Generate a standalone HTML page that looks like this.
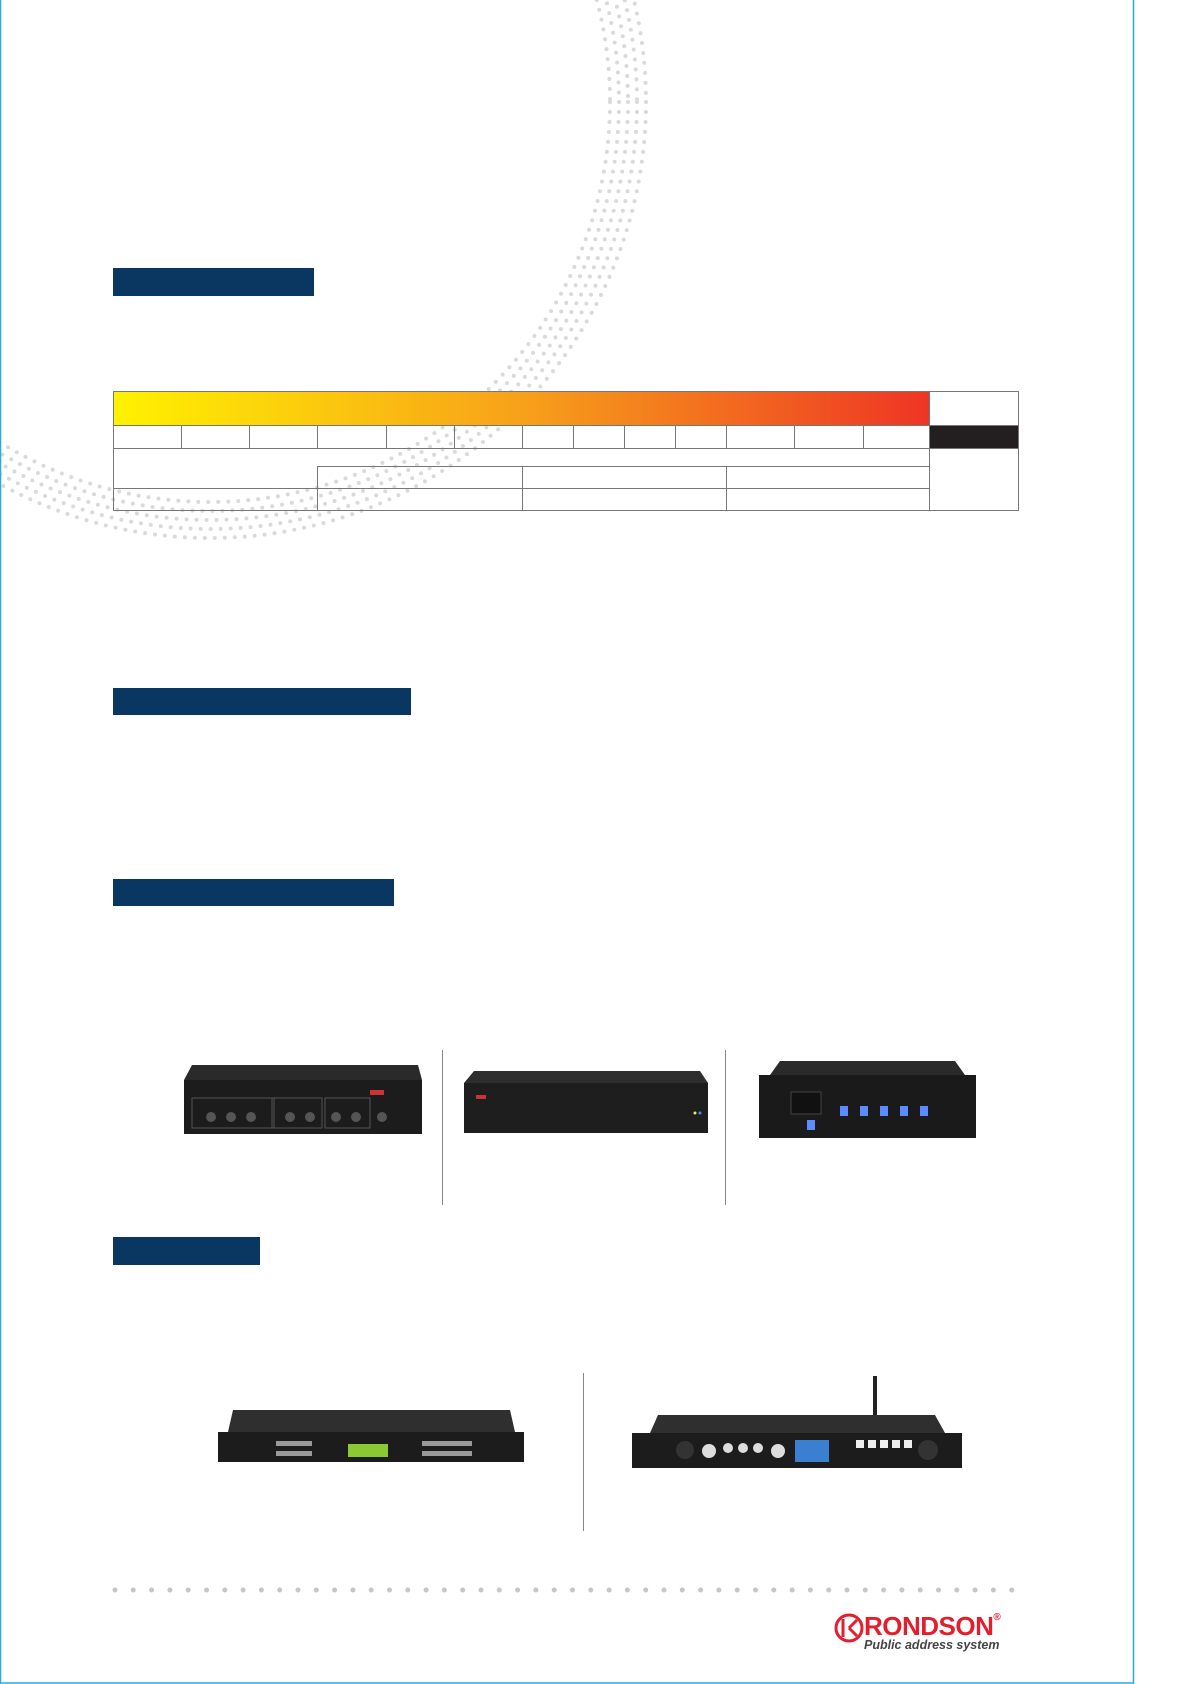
<!DOCTYPE html>
<html><head><meta charset="utf-8"><style>
html,body{margin:0;padding:0;background:#fff}
body{width:1191px;height:1684px;position:relative;overflow:hidden;font-family:"Liberation Sans",sans-serif}
.a{position:absolute}
.bar{position:absolute;background:#0a3761}
</style></head><body>
<svg class="a" style="left:0;top:0" width="1191" height="1684">
 <defs>
  <linearGradient id="g" x1="0" x2="1"><stop offset="0" stop-color="#fff200"/><stop offset="0.5" stop-color="#f7a11a"/><stop offset="1" stop-color="#ee3524"/></linearGradient>
 </defs>
 <g fill="none" stroke="#d9dadb" stroke-width="4" stroke-linecap="round" stroke-dasharray="0 10">
  <circle cx="210" cy="102" r="400"/>
  <circle cx="210" cy="102" r="409"/>
  <circle cx="210" cy="102" r="418"/>
  <circle cx="210" cy="102" r="427"/>
  <circle cx="210" cy="102" r="436"/>
 </g>
 <line x1="1133.5" y1="0" x2="1133.5" y2="1684" stroke="#29abe2" stroke-width="1.5"/>
 <line x1="0" y1="1683" x2="1134" y2="1683" stroke="#29abe2" stroke-width="1.5"/>
 <line x1="0.5" y1="0" x2="0.5" y2="1684" stroke="#29abe2" stroke-width="1.5"/>
 <rect x="113" y="391" width="816" height="34" fill="url(#g)"/>
 <rect x="929" y="425" width="90" height="23" fill="#231f20"/>
 <g stroke="#777" stroke-width="1" fill="none">
  <rect x="113.5" y="391.5" width="905" height="119"/>
  <line x1="113" y1="425.5" x2="1019" y2="425.5"/>
  <line x1="113" y1="448.5" x2="1019" y2="448.5"/>
  <line x1="929.5" y1="391" x2="929.5" y2="511"/>
  <line x1="181.5" y1="425" x2="181.5" y2="448"/><line x1="249.5" y1="425" x2="249.5" y2="448"/>
  <line x1="317.5" y1="425" x2="317.5" y2="448"/><line x1="386.5" y1="425" x2="386.5" y2="448"/>
  <line x1="454.5" y1="425" x2="454.5" y2="448"/><line x1="522.5" y1="425" x2="522.5" y2="448"/>
  <line x1="573.5" y1="425" x2="573.5" y2="448"/><line x1="624.5" y1="425" x2="624.5" y2="448"/>
  <line x1="675.5" y1="425" x2="675.5" y2="448"/><line x1="726.5" y1="425" x2="726.5" y2="448"/>
  <line x1="794.5" y1="425" x2="794.5" y2="448"/><line x1="863.5" y1="425" x2="863.5" y2="448"/>
  <line x1="317" y1="466.5" x2="929" y2="466.5"/>
  <line x1="113" y1="488.5" x2="929" y2="488.5"/>
  <line x1="317.5" y1="466" x2="317.5" y2="511"/>
  <line x1="522.5" y1="466" x2="522.5" y2="511"/>
  <line x1="726.5" y1="466" x2="726.5" y2="511"/>
 </g>
 <line x1="442.5" y1="1050" x2="442.5" y2="1205" stroke="#888"/>
 <line x1="725.5" y1="1050" x2="725.5" y2="1205" stroke="#888"/>
 <line x1="583.5" y1="1373" x2="583.5" y2="1531" stroke="#888"/>
 <line x1="115" y1="1590" x2="1027" y2="1590" stroke="#c6c6c6" stroke-width="5" stroke-linecap="round" stroke-dasharray="0 18.3"/>
 <polygon points="192,1065 418,1065 422,1080 184,1080" fill="#2a2a2a"/>
 <rect x="184" y="1080" width="238" height="54" fill="#1c1c1c"/>
 <rect x="192" y="1098" width="82" height="30" fill="none" stroke="#555"/>
 <rect x="272" y="1098" width="50" height="30" fill="none" stroke="#555"/>
 <rect x="325" y="1098" width="45" height="30" fill="none" stroke="#555"/>
 <g fill="#555"><circle cx="211" cy="1117" r="5"/><circle cx="231" cy="1117" r="5"/><circle cx="251" cy="1117" r="5"/><circle cx="290" cy="1117" r="5"/><circle cx="310" cy="1117" r="5"/><circle cx="336" cy="1117" r="5"/><circle cx="356" cy="1117" r="5"/><circle cx="382" cy="1117" r="5"/></g>
 <rect x="370" y="1090" width="14" height="5" fill="#c33"/>
 <polygon points="474,1071 700,1071 708,1083 464,1083" fill="#2e2e2e"/>
 <rect x="464" y="1083" width="244" height="50" fill="#1e1e1e"/>
 <rect x="476" y="1095" width="10" height="4" fill="#c33"/>
 <circle cx="695" cy="1113" r="1.5" fill="#ee4"/><circle cx="700" cy="1113" r="1.5" fill="#48f"/>
 <polygon points="780,1061 955,1061 965,1075 770,1075" fill="#2a2a2a"/>
 <rect x="759" y="1075" width="217" height="63" fill="#1a1a1a"/>
 <rect x="791" y="1092" width="30" height="22" fill="#111" stroke="#444"/>
 <g fill="#5a8cff"><rect x="840" y="1106" width="8" height="10"/><rect x="860" y="1106" width="8" height="10"/><rect x="880" y="1106" width="8" height="10"/><rect x="900" y="1106" width="8" height="10"/><rect x="920" y="1106" width="8" height="10"/><rect x="807" y="1120" width="8" height="10"/></g>
 <polygon points="233,1410 510,1410 515,1432 228,1432" fill="#2f2f2f"/>
 <rect x="218" y="1432" width="306" height="30" fill="#1c1c1c"/>
 <rect x="348" y="1444" width="40" height="13" fill="#8ac834"/>
 <g fill="#999"><rect x="276" y="1441" width="36" height="5"/><rect x="276" y="1451" width="36" height="5"/><rect x="422" y="1441" width="50" height="5"/><rect x="422" y="1451" width="50" height="5"/></g>
 <rect x="873" y="1376" width="4" height="45" fill="#222"/>
 <polygon points="658,1415 935,1415 945,1433 650,1433" fill="#2f2f2f"/>
 <rect x="632" y="1433" width="330" height="35" fill="#1c1c1c"/>
 <g fill="#ddd"><circle cx="709" cy="1451" r="7"/><circle cx="728" cy="1448" r="5"/><circle cx="743" cy="1448" r="5"/><circle cx="758" cy="1448" r="5"/><circle cx="778" cy="1451" r="7"/></g>
 <rect x="795" y="1440" width="34" height="22" fill="#3a7fd0"/>
 <g fill="#eee"><rect x="856" y="1440" width="8" height="8"/><rect x="868" y="1440" width="8" height="8"/><rect x="880" y="1440" width="8" height="8"/><rect x="892" y="1440" width="8" height="8"/><rect x="904" y="1440" width="8" height="8"/></g>
 <circle cx="928" cy="1450" r="10" fill="#333"/><circle cx="685" cy="1450" r="9" fill="#333"/>
 <circle cx="849" cy="1628" r="13" fill="none" stroke="#e31e2d" stroke-width="3"/>
 <path d="M843 1619 v18 M849 1628 l8 -8 M849 1628 l8 8" stroke="#e31e2d" stroke-width="3" fill="none"/>
</svg>
<div class="bar" style="left:113px;top:268px;width:201px;height:28px"></div>
<div class="bar" style="left:113px;top:688px;width:298px;height:27px"></div>
<div class="bar" style="left:113px;top:879px;width:281px;height:27px"></div>
<div class="bar" style="left:113px;top:1237px;width:147px;height:28px"></div>
<div class="a" style="left:864px;top:1611px;font-size:26px;font-weight:bold;color:#e31e2d;letter-spacing:-0.5px;line-height:30px">RONDSON<sup style="font-size:10px;vertical-align:top;line-height:14px">®</sup></div>
<div class="a" style="left:864px;top:1638px;font-size:12.5px;font-weight:bold;font-style:italic;color:#444;line-height:14px">Public address system</div>
</body></html>
